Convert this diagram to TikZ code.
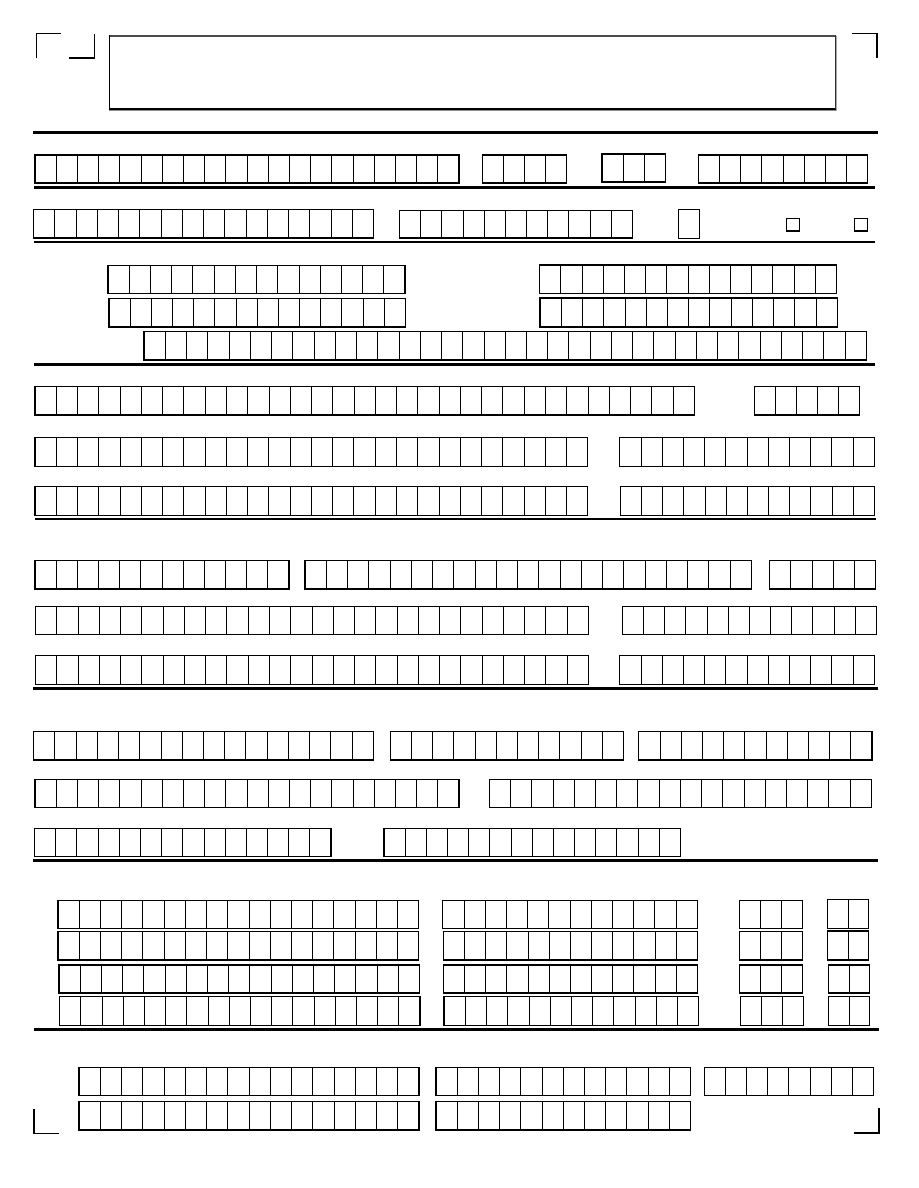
\documentclass[tikz,border=0pt]{standalone}
\usepackage{tikz}
\tikzset{
  cellline/.style={line width=0.8pt, black},
  combouter/.style={line width=1.5pt, black},
  rulethick/.style={line width=2.6pt, black},
  cornermark/.style={line width=1.4pt, black},
}
\newcommand\combbox[5]{%
  \foreach \i in {1,...,#5}{%
    \ifnum\i<#5\relax
      \draw[cellline] ({#1+(#3-#1)/#5*\i},#2) -- ({#1+(#3-#1)/#5*\i},#4);
    \fi}%
  \draw[combouter] (#1,#2) rectangle (#3,#4);%
}
\begin{document}
\begin{tikzpicture}[x=1pt,y=-1pt]
\useasboundingbox[fill=white] (0,0) rectangle (918,1188);
% corner marks
\draw[cornermark] (36.5,58) -- (36.5,33.5) -- (61,33.5);
\draw[cornermark] (69,58) -- (94.5,58) -- (94.5,34);
\draw[cornermark] (852,33.5) -- (877,33.5) -- (877,58);
\draw[cornermark] (34,1109) -- (34,1133.3) -- (58.7,1133.3);
\draw[cornermark] (854,1133) -- (879,1133) -- (879,1108);
% title box (bevelled)
\draw[line width=1.6pt, black!70] (108.5,35.8) -- (836,35.8);
\draw[line width=1.2pt, black] (109.2,35.5) -- (109.2,109);
\draw[line width=1.2pt, black] (109,109) -- (835.5,109);
\draw[line width=1.0pt, black!45] (109,110.6) -- (836.8,110.6);
\draw[line width=1.2pt, black!80] (835.2,35.5) -- (835.2,109);
\draw[line width=1.0pt, black!35] (836.7,36) -- (836.7,110.6);
% separator rules
\draw[rulethick] (33,132.5) -- (878,132.5);
\draw[line width=2.2pt] (34,187.5) -- (874.7,187.5);
\draw[line width=2.2pt] (34,242) -- (874.7,242);
\draw[rulethick] (34,364.3) -- (874.7,364.3);
\draw[rulethick] (35,519) -- (875.7,519);
\draw[rulethick] (33,688.3) -- (878,688.3);
\draw[rulethick] (33,860.3) -- (878,860.3);
\draw[rulethick] (34,1029.3) -- (879,1029.3);
% row 1
\combbox{35}{155}{459}{183}{20}
\combbox{482.3}{155}{566.7}{183}{4}
\combbox{602}{154}{665.3}{182}{3}
\combbox{698.3}{155}{867.7}{183}{8}
% row 2
\combbox{33.5}{209.5}{373.5}{238}{16}
\combbox{399.5}{210.5}{632.3}{238}{11}
\combbox{678.7}{209.5}{699.3}{238.5}{1}
\draw[combouter] (786.7,218.5) rectangle (799.7,231);
\draw[combouter] (854.3,218.5) rectangle (867.7,231);
% row 3 block
\combbox{108}{265.3}{405}{293.7}{14}
\combbox{539.7}{265}{836.3}{293.5}{14}
\combbox{109}{298.7}{405.3}{327}{14}
\combbox{540}{298}{837.3}{327}{14}
\combbox{144}{331.7}{866.3}{360}{34}
% row 4
\combbox{35}{386.3}{694.3}{415}{31}
\combbox{754.3}{386.3}{859.7}{415}{5}
% row 5, 6
\combbox{35}{437.3}{587.7}{466.3}{26}
\combbox{619.7}{437.3}{874.3}{466.3}{12}
\combbox{35}{486.3}{587.7}{515.7}{26}
\combbox{620.3}{486.3}{874.3}{515.7}{12}
% row 7
\combbox{35}{560.3}{289}{589}{12}
\combbox{305}{560.3}{751.3}{589}{21}
\combbox{769.7}{560.3}{875.3}{589}{5}
% row 8, 9
\combbox{35.5}{606.3}{588.3}{634.3}{26}
\combbox{622.3}{606.3}{876.3}{634.3}{12}
\combbox{35.5}{655.7}{588.3}{684.3}{26}
\combbox{619.7}{655.7}{874.3}{684.3}{12}
% row 10
\combbox{33.5}{731.3}{373.3}{760}{16}
\combbox{390.3}{731.3}{623.3}{760}{11}
\combbox{638.7}{731.3}{872}{760}{11}
% row 11
\combbox{35}{779.7}{459}{807.7}{20}
\combbox{489.3}{779.7}{871.3}{807.7}{18}
% row 12
\combbox{34.5}{828.3}{331}{856.3}{14}
\combbox{384}{828.3}{680.3}{856.3}{14}
% four-row block
\combbox{58}{900.3}{418.7}{928.7}{17}
\combbox{442.7}{900.3}{697.3}{928.7}{12}
\combbox{739.7}{900.3}{802.3}{928.7}{3}
\combbox{827.3}{899.3}{868.7}{928.3}{2}
\combbox{58}{931.7}{418.7}{960}{17}
\combbox{443.3}{931.7}{697.3}{960}{12}
\combbox{739.7}{931.7}{802.3}{960}{3}
\combbox{827.3}{931}{868.7}{960}{2}
\combbox{59}{965}{419.3}{993}{17}
\combbox{443.3}{965}{697.3}{993}{12}
\combbox{739.7}{965}{802.3}{993}{3}
\combbox{828.3}{965}{869.7}{993}{2}
\combbox{59.5}{996.7}{420}{1025.3}{17}
\combbox{444}{996.7}{698.7}{1025.3}{12}
\combbox{740.7}{996.7}{803.3}{1025.3}{3}
\combbox{828.3}{996.7}{869.7}{1025.3}{2}
% bottom rows
\combbox{79}{1067.3}{419}{1095.7}{16}
\combbox{436}{1067.3}{690.3}{1095.7}{12}
\combbox{704.3}{1067.3}{873.3}{1095.7}{8}
\combbox{79}{1101.3}{419}{1130}{16}
\combbox{436}{1101.3}{690.3}{1130}{12}
\end{tikzpicture}
\end{document}
